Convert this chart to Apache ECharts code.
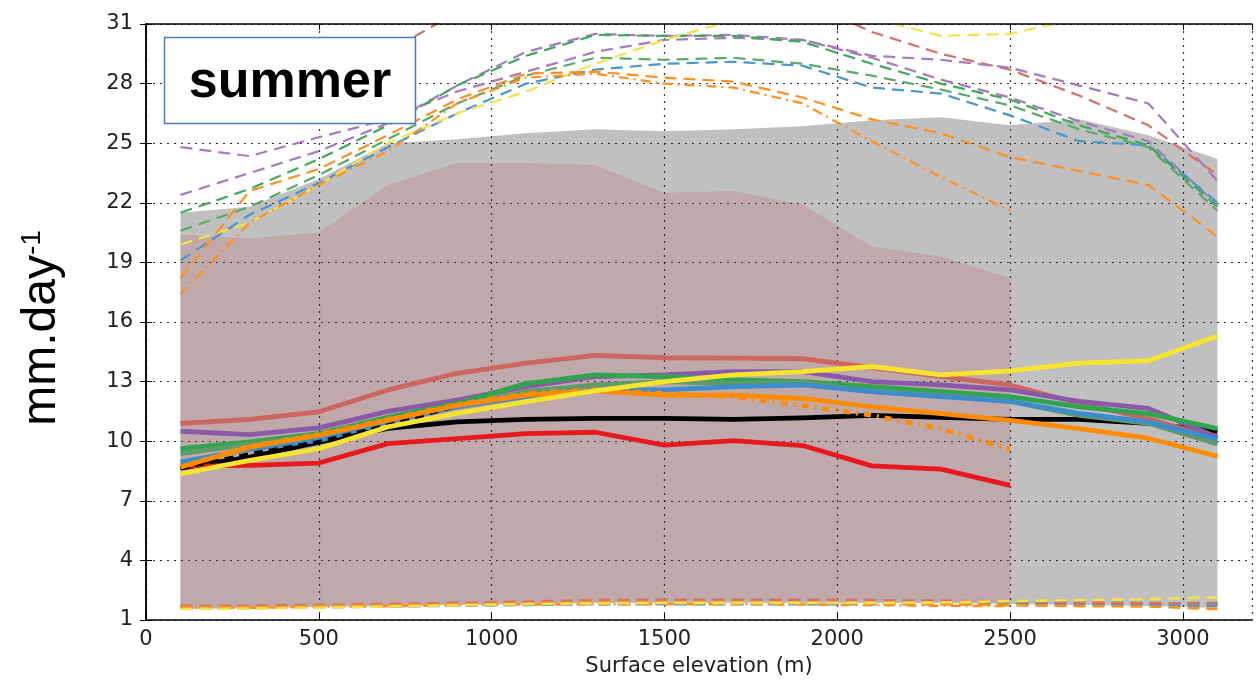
<!DOCTYPE html>
<html>
<head>
<meta charset="utf-8">
<script src="https://cdn.jsdelivr.net/npm/echarts@6/dist/echarts.min.js"></script>
<style>
  html, body { margin: 0; padding: 0; background: #ffffff; }
  #chart { width: 1257px; height: 682px; }
</style>
</head>
<body>
<div id="chart"></div>
<script>
// Elevation bins (m)
const elevation = [100, 300, 500, 700, 900, 1100, 1300, 1500, 1700, 1900, 2100, 2300, 2500, 2700, 2900, 3100];

// Axis ticks
const xTicks = { min: 0, max: 3200, step: 500 };
const yTicks = { min: 1, max: 31, step: 3 };

// Envelope bands (mm/day)
const greyLow  = [1.55, 1.6, 1.65, 1.7, 1.75, 1.8, 1.85, 1.85, 1.85, 1.85, 1.85, 1.85, 1.8, 1.75, 1.7, 1.6];
const greyHigh = [21.5, 21.8, 23.2, 25.0, 25.2, 25.5, 25.7, 25.6, 25.7, 25.85, 26.15, 26.3, 25.9, 26.2, 25.4, 24.2];
const pinkLow  = [1.6, 1.65, 1.7, 1.75, 1.8, 1.85, 1.9, 1.95, 1.95, 1.95, 1.95, 1.9, 1.85];
const pinkHigh = [20.4, 20.2, 20.5, 22.9, 24.0, 24.0, 23.9, 22.5, 22.6, 21.9, 19.8, 19.3, 18.2];

// Mean profiles
const meanBlack     = [8.65, 9.2, 9.95, 10.65, 10.97, 11.1, 11.15, 11.15, 11.1, 11.17, 11.3, 11.2, 11.1, 11.1, 10.9, 10.5];
const meanBlackDash = [8.65, 9.35, 9.96, 10.8, 11.8];
const meanRed       = [8.75, 8.78, 8.9, 9.88, 10.13, 10.38, 10.45, 9.8, 10.03, 9.78, 8.76, 8.59, 7.78];
const meanIndianRed = [10.89, 11.1, 11.48, 12.58, 13.42, 13.93, 14.32, 14.2, 14.18, 14.15, 13.7, 13.25, 12.83, 11.9, 11.14, 10.12];
const meanPurple    = [10.5, 10.33, 10.67, 11.5, 12.07, 12.75, 13.25, 13.34, 13.5, 13.5, 13.0, 12.83, 12.58, 12.0, 11.65, 10.2];
const meanGreen     = [9.62, 9.96, 10.38, 11.2, 11.9, 12.9, 13.34, 13.25, 13.08, 13.0, 12.75, 12.5, 12.24, 11.73, 11.39, 10.63];
const meanSage      = [9.37, 9.85, 10.25, 11.05, 11.75, 12.5, 12.83, 13.0, 12.9, 12.96, 12.5, 12.3, 12.0, 11.3, 10.9, 9.86];
const meanBlue      = [8.95, 9.6, 10.04, 10.97, 11.73, 12.24, 12.58, 12.58, 12.75, 12.83, 12.5, 12.24, 12.0, 11.4, 10.97, 10.1];
const meanOrange    = [8.7, 9.7, 10.3, 11.06, 11.8, 12.32, 12.53, 12.32, 12.32, 12.15, 11.73, 11.39, 11.05, 10.63, 10.15, 9.24];
const meanOrangeDot = [8.7, 9.75, 10.35, 11.1, 11.85, 12.4, 12.6, 12.4, 12.24, 11.8, 11.3, 10.63, 9.6];
const meanYellow    = [8.35, 9.03, 9.62, 10.72, 11.4, 11.99, 12.53, 13.0, 13.34, 13.5, 13.76, 13.34, 13.54, 13.93, 14.05, 15.29];

// Upper profiles
const maxPurpleA  = [24.8, 24.35, 25.3, 26.2, 27.6, 28.6, 29.6, 30.2, 30.3, 30.2, 29.4, 29.2, 28.8, 27.9, 27.0, 23.1];
const maxPurpleB  = [22.4, 23.5, 24.6, 26.0, 27.9, 29.6, 30.5, 30.4, 30.45, 30.2, 29.3, 28.2, 27.3, 26.1, 25.1, 21.9];
const maxGreen    = [21.5, 22.7, 24.2, 25.9, 27.9, 29.4, 30.45, 30.4, 30.4, 30.1, 29.0, 28.0, 27.2, 25.9, 24.9, 21.8];
const maxSage     = [20.6, 21.8, 23.4, 25.2, 27.0, 28.4, 29.3, 29.2, 29.3, 29.0, 28.4, 27.7, 26.9, 25.7, 24.8, 21.6];
const maxBlue     = [19.1, 21.4, 23.0, 24.8, 26.5, 28.0, 28.7, 29.0, 29.1, 28.9, 27.8, 27.5, 26.4, 25.1, 24.9, 22.0];
const maxYellow   = [19.9, 21.0, 22.9, 25.0, 26.5, 27.6, 29.0, 30.2, 31.2, 31.6, 31.3, 30.4, 30.5, 31.3, 31.8, 32.2];
const maxOrange   = [18.2, 22.6, 23.7, 25.4, 27.2, 28.5, 28.6, 28.3, 28.1, 27.3, 26.2, 25.5, 24.3, 23.6, 22.9, 20.3];
const maxOrangeDD = [17.4, 21.0, 22.9, 24.6, 27.0, 28.3, 28.5, 28.0, 27.8, 27.0, 25.1, 23.3, 21.6];
const maxIndianRed = [26.6, 27.2, 28.2, 29.6, 31.6, 32.5, 33.0, 33.0, 32.8, 32.2, 30.6, 29.5, 28.7, 27.4, 25.9, 23.4];

// Lower profiles
const minIndianRed = [1.72, 1.72, 1.76, 1.8, 1.86, 1.92, 2.0, 2.02, 2.02, 2.02, 2.0, 1.97, 1.93, 1.88, 1.86, 1.8];
const minOrange    = [1.65, 1.65, 1.7, 1.75, 1.8, 1.85, 1.9, 1.9, 1.9, 1.88, 1.85, 1.8, 1.75, 1.7, 1.68, 1.55];
const minOrangeDD  = [1.6, 1.62, 1.66, 1.7, 1.74, 1.78, 1.8, 1.8, 1.8, 1.78, 1.75, 1.72, 1.7];
const minYellow    = [1.55, 1.58, 1.62, 1.68, 1.74, 1.8, 1.84, 1.86, 1.86, 1.86, 1.86, 1.88, 1.95, 2.0, 2.05, 2.15];
const minGreen     = [1.6, 1.62, 1.66, 1.7, 1.75, 1.8, 1.84, 1.85, 1.85, 1.85, 1.85, 1.85, 1.85, 1.85, 1.84, 1.85];
const minBlue      = [1.58, 1.6, 1.64, 1.68, 1.72, 1.76, 1.8, 1.8, 1.8, 1.8, 1.8, 1.8, 1.78, 1.76, 1.75, 1.72];

const labelFont = 'DejaVu Sans';
const titleFont = '"Liberation Sans", Arial, sans-serif';

function pts(vals) {
  return vals.map((v, i) => [elevation[i], v]);
}

let zc = 2;
function line(vals, color, width, type) {
  return {
    type: 'line',
    data: pts(vals),
    symbol: 'none',
    silent: true,
    animation: false,
    clip: true,
    z: zc++,
    lineStyle: { color: color, width: width, type: type || 'solid', cap: 'butt', join: 'round' }
  };
}

// Filled envelope between a low and a high profile, drawn as one polygon
function band(low, high, color) {
  const rows = low.map((l, i) => [elevation[i], l, high[i]]);
  return {
    type: 'custom',
    data: rows,
    encode: { x: 0, y: [1, 2] },
    silent: true,
    animation: false,
    clip: true,
    z: 0,
    renderItem: function (params, api) {
      if (params.dataIndex !== 0) return null;
      const top = rows.map(r => api.coord([r[0], r[2]]));
      const bottom = rows.slice().reverse().map(r => api.coord([r[0], r[1]]));
      return {
        type: 'polygon',
        shape: { points: top.concat(bottom) },
        style: { fill: color, stroke: null }
      };
    }
  };
}

const dash = [12, 7];
const dashDot = [10, 5, 2, 5];

const series = [
  band(greyLow, greyHigh, '#c0c0c0'),
  band(pinkLow, pinkHigh, '#bfa9aa'),
  // lower envelopes
  line(minGreen, '#5aa86a', 2.6, dash),
  line(minBlue, '#4a96cf', 2.6, dash),
  line(minIndianRed, '#d4716a', 2.6, dash),
  line(minOrange, '#ff9020', 2.6, dash),
  line(minOrangeDD, '#ff9020', 2.6, dashDot),
  line(minYellow, '#f2e34a', 2.6, dash),
  // upper envelopes
  line(maxIndianRed, '#d4716a', 2.2, dash),
  line(maxPurpleA, '#a77cbf', 2.2, dash),
  line(maxPurpleB, '#a77cbf', 2.2, dash),
  line(maxBlue, '#4a96cf', 2.2, dash),
  line(maxSage, '#5aa86a', 2.2, dash),
  line(maxGreen, '#3faa5c', 2.2, dash),
  line(maxYellow, '#f2e34a', 2.2, dash),
  line(maxOrange, '#ff9020', 2.2, dash),
  line(maxOrangeDD, '#ff9020', 2.2, dashDot),
  // means
  line(meanBlack, '#000000', 4.8),
  line(meanRed, '#e8191e', 4.8),
  line(meanIndianRed, '#cc6660', 4.8),
  line(meanPurple, '#8a5aa8', 4.8),
  line(meanGreen, '#2fa550', 4.8),
  line(meanSage, '#5e9a6a', 4.8),
  line(meanBlue, '#3d8ccc', 4.8),
  line(meanBlackDash, '#000000', 4, [9, 6]),
  line(meanOrange, '#ff8c00', 4.8),
  line(meanOrangeDot, '#ff8c00', 4.8, [7, 6, 2, 6]),
  line(meanYellow, '#f5e52e', 4.8)
];

const frameLine = { show: true, lineStyle: { color: '#000', width: 1.5 } };
const innerTick = { show: true, inside: true, length: 6, lineStyle: { color: '#000', width: 1 } };
const gridDots = { show: true, lineStyle: { color: '#333', width: 1.2, type: [2, 5] } };

const chart = echarts.init(document.getElementById('chart'), null, { renderer: 'canvas' });
chart.setOption({
  animation: false,
  backgroundColor: '#ffffff',
  grid: { left: 146, right: 5, top: 24, bottom: 62, containLabel: false },
  xAxis: [
    {
      type: 'value', min: xTicks.min, max: xTicks.max, interval: xTicks.step, position: 'bottom', z: 1,
      axisLine: frameLine, axisTick: innerTick, splitLine: gridDots,
      axisLabel: { fontFamily: labelFont, fontSize: 21, color: '#222', margin: 9, showMaxLabel: false,
        formatter: v => (v % xTicks.step === 0 ? String(v) : '') },
      name: 'Surface elevation (m)', nameLocation: 'middle', nameGap: 36,
      nameTextStyle: { fontFamily: labelFont, fontSize: 21, color: '#222' }
    },
    {
      type: 'value', min: xTicks.min, max: xTicks.max, interval: xTicks.step, position: 'top', z: 50,
      axisLine: frameLine, axisTick: innerTick, splitLine: { show: false }, axisLabel: { show: false }
    }
  ],
  yAxis: [
    {
      type: 'value', min: yTicks.min, max: yTicks.max, interval: yTicks.step, position: 'left', z: 1,
      axisLine: frameLine, axisTick: innerTick, splitLine: gridDots,
      axisLabel: { fontFamily: labelFont, fontSize: 21, color: '#222', margin: 13 }
    },
    {
      type: 'value', min: yTicks.min, max: yTicks.max, interval: yTicks.step, position: 'right', z: 50,
      axisLine: frameLine, axisTick: innerTick, splitLine: { show: false }, axisLabel: { show: false }
    }
  ],
  graphic: [
    {
      type: 'text', z: 100, x: 42, y: 328, rotation: Math.PI / 2,
      style: {
        text: '{a|mm.day}{b|-1}',
        align: 'center', verticalAlign: 'middle',
        rich: {
          a: { fontFamily: titleFont, fontSize: 48, fill: '#000' },
          b: { fontFamily: titleFont, fontSize: 28, fill: '#000', verticalAlign: 'top' }
        }
      }
    },
    {
      type: 'group', z: 100,
      children: [
        {
          type: 'rect', z: 100,
          shape: { x: 164.5, y: 37.5, width: 251, height: 86 },
          style: { fill: '#ffffff', stroke: '#4a7cc0', lineWidth: 1.5 }
        },
        {
          type: 'text', z: 101, x: 290, y: 83,
          style: {
            text: 'summer', align: 'center', verticalAlign: 'middle',
            fontFamily: titleFont, fontWeight: 'bold', fontSize: 52, fill: '#000'
          }
        }
      ]
    }
  ],
  series: series
});
</script>
</body>
</html>
